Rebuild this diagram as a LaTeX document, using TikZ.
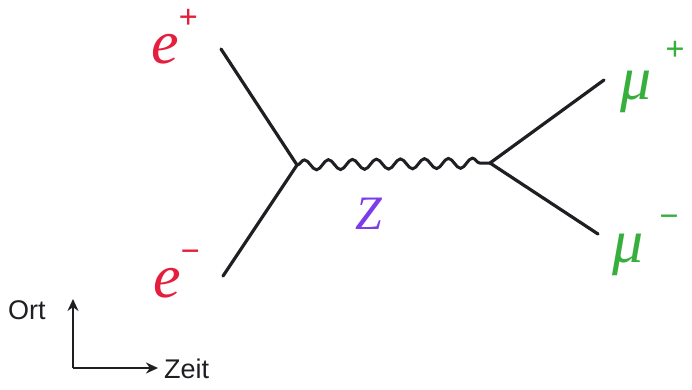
\documentclass[tikz,border=0pt]{standalone}
\usepackage{fontspec}
\newfontfamily\labfont{Liberation Serif}
\setsansfont{Liberation Sans}
\usetikzlibrary{decorations.pathmorphing,arrows.meta}
\definecolor{ered}{RGB}{228,30,60}
\definecolor{zpurple}{RGB}{125,60,235}
\definecolor{mugreen}{RGB}{55,175,60}
\definecolor{ink}{RGB}{30,30,35}
\newcommand{\supsign}[1]{\raisebox{0.55em}{\fontsize{34}{34}\selectfont\upshape\bfseries #1}}
\begin{document}
\begin{tikzpicture}[x=1pt,y=-1pt,
  fermion/.style={draw=ink,line width=3.2pt,line cap=round},
  boson/.style={draw=ink,line width=3pt,decorate,decoration={snake,amplitude=5pt,segment length=24pt}},
  axis/.style={draw=ink,line width=2.8pt,-{Stealth[length=12pt,width=11pt]}},
  lbl/.style={font=\fontsize{62}{64}\selectfont\labfont\itshape,inner sep=0pt,anchor=base west},
  small/.style={font=\fontsize{27}{29}\selectfont\sffamily,text=ink,inner sep=0pt}]
\useasboundingbox[fill=white] (0,0) rectangle (692,389);
\coordinate (v1) at (297,165);
\coordinate (v2) at (490,163);
\coordinate (ep) at (221,49);
\coordinate (em) at (223,276);
\coordinate (mp) at (604,80);
\coordinate (mm) at (598,234);
\draw[fermion] (ep) -- (v1);
\draw[fermion] (em) -- (v1);
\draw[fermion] (mp) -- (v2);
\draw[fermion] (mm) -- (v2);
\draw[boson] (v1) -- (v2);
\node[lbl,text=ered] (lep) at (151,63) {e\supsign{+}};
\node[lbl,text=ered] (lem) at (153,297) {e\supsign{−}};
\node[lbl,text=zpurple,font=\fontsize{48}{50}\selectfont\labfont\itshape] (lz) at (355,229) {Z};
\node[lbl,text=mugreen] (lmp) at (620,99) {μ\kern14pt\raisebox{4pt}{\supsign{+}}};
\node[lbl,text=mugreen] (lmm) at (612,262) {μ\kern16pt\supsign{−}};
\coordinate (o) at (73,368);
\coordinate (oy) at (73,299);
\coordinate (ox) at (158,368);
\draw[axis] (o) -- (oy);
\draw[axis] (o) -- (ox);
\node[small,anchor=base west] (ort) at (8,319) {Ort};
\node[small,anchor=base west] (zeit) at (164,378) {Zeit};
\end{tikzpicture}
\end{document}
